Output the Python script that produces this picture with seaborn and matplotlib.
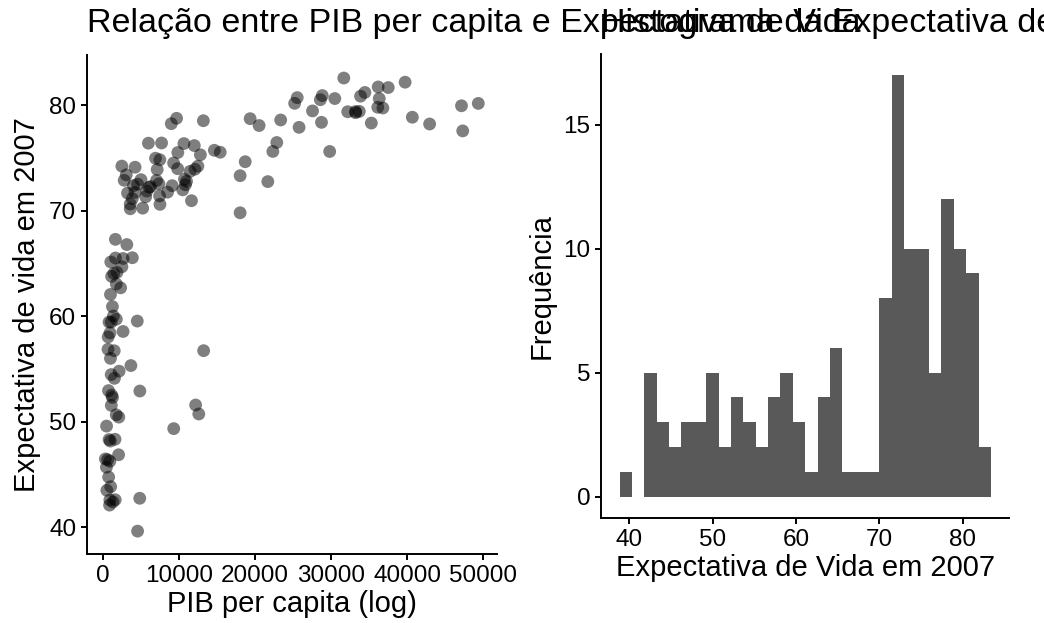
import numpy as np
import pandas as pd
import seaborn as sns
import matplotlib.pyplot as plt

# Gapminder 2007 (142 countries): GDP per capita and life expectancy
gdp_percap = [
    974.58, 5937.03, 6223.37, 4797.23, 12779.38, 34435.37, 36126.49, 29796.05, 1391.25, 33692.61,
    1441.28, 3822.14, 7446.30, 12569.85, 9065.80, 10680.79, 1217.03, 430.07, 1713.78, 2042.10,
    36319.24, 706.02, 1704.06, 13171.64, 4959.11, 7006.58, 986.15, 277.55, 3632.56, 9645.06,
    1544.75, 14619.22, 8948.10, 22833.31, 35278.42, 2082.48, 6025.37, 6873.26, 5581.18, 5728.35,
    12154.09, 641.37, 690.81, 33207.08, 30470.02, 13206.48, 752.75, 32170.37, 1327.61, 27538.41,
    5186.05, 942.65, 579.23, 1201.64, 3548.33, 39724.98, 18008.94, 36180.79, 2452.21, 3540.65,
    11605.71, 4471.06, 40676.00, 25523.28, 28569.72, 7320.88, 31656.07, 4519.46, 1463.25, 1593.07,
    23348.14, 47306.99, 10461.06, 1569.33, 414.51, 12057.50, 1044.77, 759.35, 12451.66, 1042.58,
    1803.15, 10956.99, 11977.57, 3095.77, 9253.90, 3820.18, 823.69, 944.00, 4811.06, 1091.36,
    36797.93, 25185.01, 2749.32, 619.68, 2013.98, 49357.19, 22316.19, 2605.95, 9809.19, 4172.84,
    7408.91, 3190.48, 15389.92, 20509.65, 19328.71, 7670.12, 10808.48, 863.09, 1598.44, 21654.83,
    1712.47, 9786.53, 862.54, 47143.18, 18678.31, 25768.26, 926.14, 9269.66, 28821.06, 3970.10,
    2602.39, 4513.48, 33859.75, 37506.42, 4184.55, 28718.28, 1107.48, 7458.40, 882.97, 18008.51,
    7092.92, 8458.28, 1056.38, 33203.26, 42951.65, 10611.46, 11415.81, 2441.58, 3025.35, 2280.77,
    1271.21, 469.71,
]
life_exp = [
    43.828, 76.423, 72.301, 42.731, 75.320, 81.235, 79.829, 75.635, 64.062, 79.441,
    56.728, 65.554, 74.852, 50.728, 72.390, 73.005, 52.295, 49.580, 59.723, 50.430,
    80.653, 44.741, 50.651, 78.553, 72.961, 72.889, 65.152, 46.462, 55.322, 78.782,
    48.328, 75.748, 78.273, 76.486, 78.332, 54.791, 72.235, 74.994, 71.338, 71.878,
    51.579, 58.040, 52.947, 79.313, 80.657, 56.735, 59.448, 79.406, 60.022, 79.483,
    70.259, 56.007, 46.388, 60.916, 70.198, 82.208, 73.338, 81.757, 64.698, 70.650,
    70.964, 59.545, 78.885, 80.745, 80.546, 72.567, 82.603, 72.535, 54.110, 67.297,
    78.623, 77.588, 71.993, 42.592, 45.678, 73.952, 59.443, 48.303, 74.241, 54.467,
    64.164, 72.801, 76.195, 66.803, 74.543, 71.164, 42.082, 62.069, 52.906, 63.785,
    79.762, 80.204, 72.899, 56.867, 46.859, 80.196, 75.640, 65.483, 75.537, 71.752,
    71.421, 71.688, 75.563, 78.098, 78.746, 76.442, 72.476, 46.242, 65.528, 72.777,
    63.062, 74.002, 42.568, 79.972, 74.663, 77.926, 48.159, 49.339, 80.941, 72.396,
    58.556, 39.613, 80.884, 81.701, 74.143, 78.400, 52.517, 70.616, 58.420, 69.819,
    73.923, 71.777, 51.542, 79.425, 78.242, 76.384, 73.747, 74.249, 73.422, 62.698,
    42.384, 43.487,
]

df = pd.DataFrame({'gdpPercap': gdp_percap, 'lifeExp': life_exp})

sns.set_theme(style='ticks')
plt.rcParams['font.family'] = ['Liberation Sans', 'DejaVu Sans']
plt.rcParams['axes.linewidth'] = 1.4
plt.rcParams['xtick.major.width'] = 1.4
plt.rcParams['ytick.major.width'] = 1.4
plt.rcParams['xtick.major.size'] = 4.5
plt.rcParams['ytick.major.size'] = 4.5
plt.rcParams['xtick.major.pad'] = 3.5
plt.rcParams['ytick.major.pad'] = 3
plt.rcParams['axes.edgecolor'] = 'black'
plt.rcParams['xtick.color'] = 'black'
plt.rcParams['ytick.color'] = 'black'
plt.rcParams['text.color'] = 'black'
plt.rcParams['axes.labelcolor'] = 'black'

fig = plt.figure(figsize=(10.44, 6.23), dpi=100)
ax1 = fig.add_axes([0.0831, 0.1111, 0.3929, 0.8])
ax2 = fig.add_axes([0.5757, 0.1689, 0.3912, 0.7445])

# scatter
sns.scatterplot(data=df, x='gdpPercap', y='lifeExp', ax=ax1, color='black',
                alpha=0.5, s=85, edgecolor='none')

def expand(lo, hi, f=0.05):
    d = (hi - lo) * f
    return lo - d, hi + d

ax1.set_xlim(*expand(df.gdpPercap.min(), df.gdpPercap.max()))
ax1.set_ylim(*expand(df.lifeExp.min(), df.lifeExp.max()))
ax1.set_xticks([0, 10000, 20000, 30000, 40000, 50000])
ax1.set_yticks([40, 50, 60, 70, 80])
ax1.set_xlabel('PIB per capita (log)', fontsize=21, labelpad=2)
ax1.set_ylabel('Expectativa de vida em 2007', fontsize=21, labelpad=6)

# histogram, 30 bins like ggplot
lo, hi = df.lifeExp.min(), df.lifeExp.max()
w = (hi - lo) / 29
edges = lo - w / 2 + w * np.arange(31)
sns.histplot(data=df, x='lifeExp', bins=edges, ax=ax2, color='#595959',
             alpha=1, linewidth=0)
ax2.set_xlim(*expand(edges[0], edges[-1]))
ax2.set_ylim(*expand(0, 17))
ax2.set_xticks([40, 50, 60, 70, 80])
ax2.set_yticks([0, 5, 10, 15])
ax2.set_xlabel('Expectativa de Vida em 2007', fontsize=21, labelpad=2)
ax2.set_ylabel('Frequência', fontsize=21, labelpad=6)

for ax in (ax1, ax2):
    sns.despine(ax=ax)
    ax.tick_params(labelsize=17.5)

fig.text(0.0831, 1 - 32 / 623, 'Relação entre PIB per capita e Expectativa de Vida',
         fontsize=24.5, va='baseline', ha='left')
fig.text(0.5757, 1 - 32 / 623, 'Histograma da Expectativa de Vida',
         fontsize=24.5, va='baseline', ha='left')

fig.savefig('out.png', dpi=100)
